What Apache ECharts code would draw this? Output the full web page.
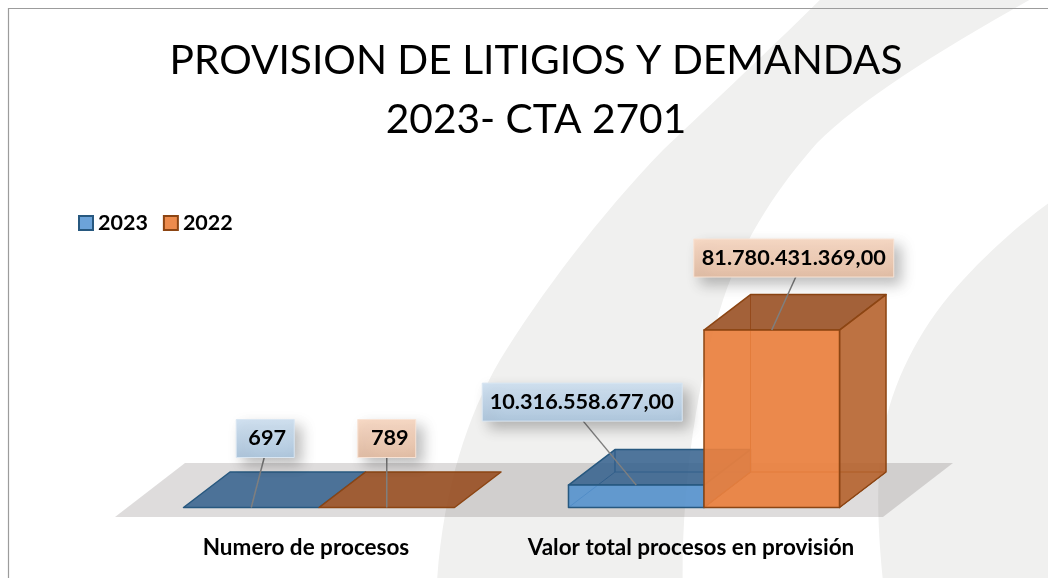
<!DOCTYPE html>
<html>
<head>
<meta charset="utf-8">
<style>
    html, body { margin: 0; padding: 0; background: #fff; }
    #chart { width: 1048px; height: 578px; }
</style>
<script src="https://cdn.jsdelivr.net/npm/echarts@6/dist/echarts.min.js"></script>
</head>
<body>
<div id="chart"></div>
<script>
const categories = ['Numero de procesos', 'Valor total procesos en provisión'];
const values2023 = [697, 10316558677];
const values2022 = [789, 81780431369];
const labels2023 = ['697', '10.316.558.677,00'];
const labels2022 = ['789', '81.780.431.369,00'];

const FONT = 'Lato, "Open Sans", sans-serif';
const DEPTH_X = 46.5;
const DEPTH_Y = -35.5;
const BAR_RATIO = 0.352;
const SWOOSH = '#f0f0ef';

const palette2023 = {
    front: 'rgba(85,146,206,0.9)',
    top: 'rgba(50,95,140,0.85)',
    side: 'rgba(60,110,160,0.85)',
    edge: '#27587f',
    legend: '#6ca3d9',
    boxFrom: '#d2e2f1',
    boxTo: '#aec6dc',
    boxEdge: '#d9e6f2',
};
const palette2022 = {
    front: 'rgba(234,128,62,0.93)',
    top: 'rgba(150,75,30,0.88)',
    side: 'rgba(180,95,40,0.88)',
    edge: '#8c4513',
    legend: '#ed8b4d',
    boxFrom: '#f8dac6',
    boxTo: '#e1bda5',
    boxEdge: '#f8e3d5',
};

// label box placement relative to the top centre of the front face
const calloutOffsets2023 = [
    { dx: 14, dy: 50, lineDx: 13, textDx: 2, w: 58 },
    { dx: -54, dy: 64, lineDx: -53, textDx: -0.5, w: 200 },
];
const calloutOffsets2022 = [
    { dx: 0, dy: 50, lineDx: 0, textDx: 3, w: 58 },
    { dx: 22, dy: 53, lineDx: 24, textDx: 0, w: 200 },
];

const face = (points, fill, stroke, lineWidth) => ({
    type: 'polygon',
    shape: { points },
    style: { fill, stroke, lineWidth, lineJoin: 'round' },
});

const makeBar = (side, palette, labels, offsets) => (params, api) => {
    const cat = api.value(0);
    const base = api.coord([cat, 0]);
    const topY = api.coord([cat, api.value(1)])[1];
    const width = api.size([1, 0])[0] * BAR_RATIO;
    const x0 = side < 0 ? base[0] - width : base[0];
    const x1 = x0 + width;
    const y0 = base[1];
    const dx = DEPTH_X;
    const dy = DEPTH_Y;
    const height = y0 - topY;

    const children = [];
    if (height > 1) {
        // back edges show through the translucent faces
        children.push(
            face([[x0, y0], [x0 + dx, y0 + dy], [x1 + dx, y0 + dy], [x1, y0]], 'rgba(0,0,0,0)', palette.edge, 1),
            face([[x0 + dx, y0 + dy], [x0 + dx, topY + dy]], 'rgba(0,0,0,0)', palette.edge, 1),
        );
    }
    children.push(
        face([[x0, topY], [x0 + dx, topY + dy], [x1 + dx, topY + dy], [x1, topY]], palette.top, palette.edge, 1.5),
    );
    if (height > 1) {
        children.push(
            face([[x1, topY], [x1 + dx, topY + dy], [x1 + dx, y0 + dy], [x1, y0]], palette.side, palette.edge, 1.5),
            face([[x0, topY], [x1, topY], [x1, y0], [x0, y0]], palette.front, palette.edge, 1.5),
        );
    }

    const offset = offsets[params.dataIndex];
    const anchorX = (x0 + x1) / 2;
    const boxBottom = topY - offset.dy;
    const boxHeight = 38;
    const boxX = anchorX + offset.dx - offset.w / 2;
    children.push(
        {
            type: 'line',
            shape: { x1: anchorX + offset.lineDx, y1: boxBottom, x2: anchorX, y2: topY },
            style: { stroke: '#7f7f7f', lineWidth: 1.5 },
        },
        {
            type: 'rect',
            shape: { x: boxX, y: boxBottom - boxHeight, width: offset.w, height: boxHeight },
            style: {
                fill: new echarts.graphic.LinearGradient(0, 0, 0, 1, [
                    { offset: 0, color: palette.boxFrom },
                    { offset: 1, color: palette.boxTo },
                ]),
                stroke: palette.boxEdge,
                lineWidth: 1,
                shadowColor: 'rgba(0,0,0,0.26)',
                shadowBlur: 14,
                shadowOffsetX: 7,
                shadowOffsetY: 7,
            },
        },
        {
            type: 'text',
            x: boxX + offset.w / 2 + offset.textDx,
            y: boxBottom - boxHeight / 2,
            style: {
                text: labels[params.dataIndex],
                fontFamily: FONT,
                fontWeight: 'bold',
                fontSize: 21.7,
                fill: '#000',
                align: 'center',
                verticalAlign: 'middle',
            },
        },
    );
    return { type: 'group', children };
};

// slide background: two grey swooshes and the chart frame
const renderBackdrop = () => ({
    type: 'group',
    children: [
        {
            type: 'path',
            shape: {
                pathData:
                    'M840 -20 C780 40 700 115 663 150 C600 215 540 295 500 360 C465 420 440 500 436 600 ' +
                    'L683 600 C680 500 695 385 723 300 C745 235 780 185 817 143 C860 100 940 50 1040 -6 L1060 -20 Z',
            },
            style: { fill: SWOOSH },
        },
        {
            type: 'path',
            shape: {
                pathData:
                    'M1060 195 C1030 215 990 250 963 280 C925 320 895 375 885 425 C875 475 877 530 885 600 L1060 600 Z',
            },
            style: { fill: SWOOSH },
        },
        {
            type: 'polyline',
            shape: { points: [[8.5, 578], [8.5, 8.5], [1048, 8.5]] },
            style: { fill: 'none', stroke: '#9c9c9c', lineWidth: 1.2 },
        },
    ],
});

const renderFloor = (params) => {
    const { x, y, width, height } = params.coordSys;
    const bottom = y + height;
    return {
        type: 'polygon',
        shape: {
            points: [
                [x - 11.5, bottom + 9.5],
                [x + width - 13.5, bottom + 9.5],
                [x + width + 56.5, bottom - 44.5],
                [x + 58.5, bottom - 44.5],
            ],
        },
        style: { fill: 'rgba(20,10,10,0.14)' },
    };
};

const chart = echarts.init(document.getElementById('chart'));

chart.setOption({
    animation: false,
    backgroundColor: '#fff',
    title: {
        text: 'PROVISION DE LITIGIOS Y DEMANDAS\n2023- CTA 2701',
        left: 531,
        top: 26,
        textAlign: 'center',
        textStyle: {
            fontFamily: FONT,
            fontSize: 40.7,
            fontWeight: 'normal',
            lineHeight: 59,
            color: '#000',
        },
    },
    legend: {
        left: 78,
        top: 212,
        padding: 0,
        itemWidth: 14,
        itemHeight: 14,
        itemGap: 15,
        selectedMode: false,
        textStyle: { fontFamily: FONT, fontWeight: 'bold', fontSize: 21.5, color: '#000' },
        data: [
            {
                name: '2023',
                icon: 'rect',
                itemStyle: { color: palette2023.legend, borderColor: palette2023.edge, borderWidth: 2 },
            },
            {
                name: '2022',
                icon: 'rect',
                itemStyle: { color: palette2022.legend, borderColor: palette2022.edge, borderWidth: 2 },
            },
        ],
    },
    grid: { left: 126.5, width: 770, top: 290.5, height: 217 },
    xAxis: {
        type: 'category',
        data: categories,
        axisLine: { show: false },
        axisTick: { show: false },
        axisLabel: {
            interval: 0,
            margin: 29,
            padding: [0, 26, 0, 0],
            fontFamily: FONT,
            fontWeight: 'bold',
            fontSize: 22.5,
            color: '#000',
        },
    },
    yAxis: { type: 'value', min: 0, max: 100000000000, show: false },
    series: [
        {
            name: 'backdrop',
            type: 'custom',
            z: 0,
            clip: false,
            silent: true,
            renderItem: renderBackdrop,
            data: [[0, 0]],
        },
        {
            name: 'floor',
            type: 'custom',
            z: 1,
            clip: false,
            renderItem: renderFloor,
            data: [[0, 0]],
        },
        {
            name: '2023',
            type: 'custom',
            z: 2,
            clip: false,
            itemStyle: { color: palette2023.legend },
            encode: { x: 0, y: 1 },
            renderItem: makeBar(-1, palette2023, labels2023, calloutOffsets2023),
            data: values2023.map((v, i) => [i, v]),
        },
        {
            name: '2022',
            type: 'custom',
            z: 3,
            clip: false,
            itemStyle: { color: palette2022.legend },
            encode: { x: 0, y: 1 },
            renderItem: makeBar(1, palette2022, labels2022, calloutOffsets2022),
            data: values2022.map((v, i) => [i, v]),
        },
    ],
});
</script>
</body>
</html>
